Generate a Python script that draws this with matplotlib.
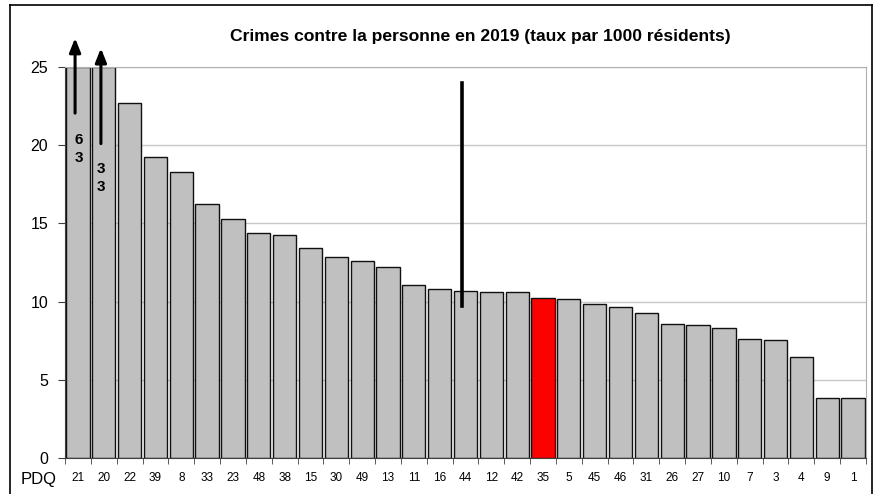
import matplotlib.pyplot as plt
from matplotlib.lines import Line2D

plt.rcParams['font.family'] = ['Liberation Sans', 'DejaVu Sans']

# PDQ districts and rates (per 1000 residents)
pdq = ['21', '20', '22', '39', '8', '33', '23', '48', '38', '15', '30', '49', '13', '11', '16',
       '44', '12', '42', '35', '5', '45', '46', '31', '26', '27', '10', '7', '3', '4', '9', '1']
rates = [63, 33, 22.7, 19.25, 18.3, 16.25, 15.3, 14.4, 14.25, 13.4, 12.85, 12.6, 12.2, 11.05, 10.8,
         10.7, 10.6, 10.6, 10.2, 10.15, 9.85, 9.65, 9.25, 8.55, 8.5, 8.3, 7.6, 7.55, 6.45, 3.85, 3.85]
highlight = '35'
y_max = 25

fig = plt.figure(figsize=(8.8, 4.94), dpi=100)
ax = fig.add_axes([65/880, 36/494, 801/880, 391/494])

colors = ['#FF0000' if p == highlight else '#C0C0C0' for p in pdq]
shown = [min(r, y_max) for r in rates]
x = list(range(len(pdq)))
ax.bar(x, shown, width=0.9, color=colors, edgecolor='#101010', linewidth=1.0, zorder=2)

ax.set_xlim(-0.5, len(pdq) - 0.5)
ax.set_ylim(0, y_max)
ax.set_yticks([0, 5, 10, 15, 20, 25])
ax.yaxis.grid(True, color='#C8C8C8', linewidth=1, zorder=0)
ax.set_axisbelow(True)
ax.tick_params(axis='y', labelsize=11.5, length=5, pad=7, direction='out', color='#404040')

ax.set_xticks(x)
ax.set_xticklabels(pdq, fontsize=8.5)
ax.tick_params(axis='x', length=0, pad=10)
# tick marks between categories
ax.set_xticks([i - 0.5 for i in range(len(pdq) + 1)], minor=True)
ax.tick_params(axis='x', which='minor', length=4, color='#404040')

for s in ['top', 'right']:
    ax.spines[s].set_color('#B0B0B0')
ax.spines['left'].set_color('#404040')
ax.spines['bottom'].set_color('#404040')

# arrows for values beyond the axis
arrow = dict(arrowstyle='-|>,head_length=0.7,head_width=0.28', color='black', lw=2.2,
             mutation_scale=12, shrinkA=0, shrinkB=0)
ax.annotate('', xy=(-0.11, 26.85), xytext=(-0.11, 22.05), annotation_clip=False, arrowprops=arrow)
ax.annotate('', xy=(0.89, 26.2), xytext=(0.89, 20.1), annotation_clip=False, arrowprops=arrow)
ax.text(0.04, 19.75, '6\n3', ha='center', va='center', fontsize=11, fontweight='bold', linespacing=1.35)
ax.text(0.91, 17.9, '3\n3', ha='center', va='center', fontsize=11, fontweight='bold', linespacing=1.35)

# vertical marker line
ax.plot([14.86, 14.86], [9.7, 24.0], color='black', lw=2.6, zorder=3)

fig.text(480/880, 1 - 36/494, 'Crimes contre la personne en 2019 (taux par 1000 résidents)',
         ha='center', va='center', fontsize=12.6, fontweight='bold')
fig.text(39/880, 1 - 479/494, 'PDQ', ha='center', va='center', fontsize=12)

# outer chart frame
fig.add_artist(Line2D([10/880, 10/880], [0, 1 - 5/494], color='black', lw=1.2))
fig.add_artist(Line2D([10/880, 872/880], [1 - 5/494, 1 - 5/494], color='black', lw=1.2))
fig.add_artist(Line2D([872/880, 872/880], [0, 1 - 5/494], color='black', lw=1.2))

plt.savefig('out.png', dpi=100)
